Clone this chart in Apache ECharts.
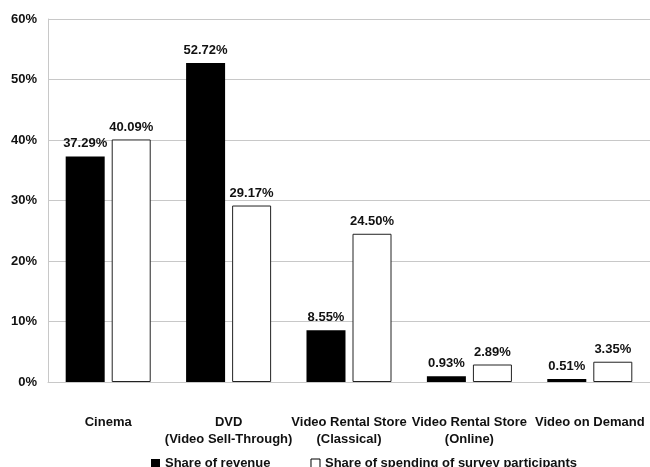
<!DOCTYPE html>
<html>
<head>
<meta charset="utf-8">
<script src="https://cdn.jsdelivr.net/npm/echarts@6/dist/echarts.min.js"></script>
<style>
html,body{margin:0;padding:0;background:#fff;}
#c{width:650px;height:467px;}
</style>
</head>
<body>
<div id="c"></div>
<script>
const categories = ['Cinema', 'DVD\n(Video Sell-Through)', 'Video Rental Store\n(Classical)', 'Video Rental Store\n(Online)', 'Video on Demand'];
const revenueShare = [37.29, 52.72, 8.55, 0.93, 0.51];
const spendingShare = [40.09, 29.17, 24.50, 2.89, 3.35];
const seriesNames = ['Share of revenue', 'Share of spending of survey participants'];
const yTicks = [0, 10, 20, 30, 40, 50, 60];

const FONT = '"Liberation Sans", Arial, sans-serif';
const chart = echarts.init(document.getElementById('c'));
const labelCfg = {
  show: true, position: 'top', distance: 6,
  fontFamily: FONT, fontWeight: 'bold', fontSize: 13, color: '#111',
  formatter: p => p.value.toFixed(2) + '%'
};
chart.setOption({
  animation: false,
  textStyle: { fontFamily: FONT },
  grid: { left: 48, right: 0, top: 19, bottom: 85, containLabel: false },
  legend: {
    left: 146, top: 452, itemWidth: 9, itemHeight: 9, itemGap: 40,
    icon: 'rect',
    textStyle: { fontFamily: FONT, fontWeight: 'bold', fontSize: 13, color: '#111' },
    data: [
      { name: seriesNames[0], itemStyle: { color: '#000', borderWidth: 0 } },
      { name: seriesNames[1], itemStyle: { color: '#fff', borderColor: '#000', borderWidth: 1 } }
    ]
  },
  xAxis: {
    type: 'category', data: categories,
    axisLine: { show: true, lineStyle: { color: '#c8c8c8', width: 1 } },
    axisTick: { show: false },
    axisLabel: {
      interval: 0, margin: 32, lineHeight: 17,
      fontFamily: FONT, fontWeight: 'bold', fontSize: 13, color: '#111'
    }
  },
  yAxis: {
    type: 'value', min: yTicks[0], max: yTicks[yTicks.length - 1], interval: 10,
    axisLine: { show: true, lineStyle: { color: '#c8c8c8', width: 1 } },
    axisTick: { show: false },
    splitLine: { show: true, lineStyle: { color: '#c8c8c8', width: 1 } },
    axisLabel: {
      margin: 11, formatter: v => v + '%',
      fontFamily: FONT, fontWeight: 'bold', fontSize: 13, color: '#111'
    }
  },
  series: [
    {
      name: seriesNames[0], type: 'bar', data: revenueShare,
      barWidth: 39, barGap: '18%',
      itemStyle: { color: '#000' },
      label: labelCfg
    },
    {
      name: seriesNames[1], type: 'bar', data: spendingShare,
      barWidth: 39,
      itemStyle: { color: '#fff', borderColor: '#222', borderWidth: 1 },
      label: labelCfg
    }
  ]
});
</script>
</body>
</html>
